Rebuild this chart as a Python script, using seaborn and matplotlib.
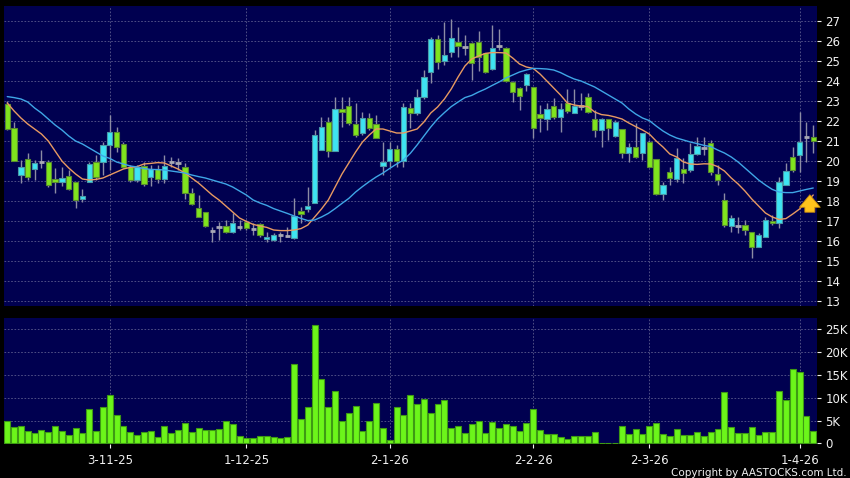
import numpy as np
import pandas as pd
import matplotlib
matplotlib.use("Agg")
import matplotlib.pyplot as plt
import seaborn as sns

# daily candles, oldest first (price)
opens = [22.85, 21.63, 19.3, 20.08, 19.58, 19.95, 19.97, 19.1, 18.97, 19.27,
         18.97, 18.08, 18.97, 19.97, 19.93, 20.8, 21.47, 20.83, 19.68, 19.05,
         19.75, 19.2, 19.6, 19.08, 19.93, 19.88, 19.68, 18.38, 17.63, 17.43,
         16.5, 16.72, 16.75, 16.43, 16.72, 16.93, 16.6, 16.85, 16.08, 16.05,
         16.3, 16.25, 16.13, 17.52, 17.58, 17.88, 20.55, 21.97, 20.52, 22.58,
         22.75, 21.85, 21.38, 22.17, 21.85, 19.77, 20.0, 20.58, 20.0, 22.67,
         22.38, 23.2, 24.47, 26.08, 25.02, 25.47, 25.97, 25.72, 25.92, 25.97,
         25.38, 24.58, 25.75, 25.67, 23.97, 23.63, 23.8, 23.68, 22.35, 22.08,
         22.75, 22.18, 22.88, 22.38, 22.75, 23.18, 22.08, 21.55, 22.12, 21.25,
         21.58, 20.38, 20.68, 20.42, 20.97, 20.08, 18.35, 19.47, 19.08, 19.58,
         19.55, 20.33, 20.63, 20.88, 19.35, 18.05, 16.75, 16.75, 16.8, 16.47,
         15.72, 16.18, 17.02, 16.88, 18.8, 20.18, 20.3, 21.18, 21.22]
highs = [23.0, 21.97, 20.05, 20.42, 20.05, 20.55, 20.05, 19.63, 19.68, 19.55,
         18.97, 18.58, 19.97, 20.3, 20.97, 22.3, 21.7, 20.97, 19.8, 19.8,
         19.97, 19.8, 19.8, 20.3, 20.22, 20.13, 19.9, 18.63, 18.3, 17.43,
         16.72, 16.97, 17.05, 17.38, 17.05, 17.05, 16.88, 16.88, 16.47, 16.4,
         16.47, 16.72, 18.13, 17.72, 18.72, 21.55, 22.2, 22.2, 23.18, 23.18,
         23.18, 22.9, 22.47, 22.4, 22.3, 20.97, 20.97, 20.8, 22.88, 22.88,
         23.6, 24.55, 26.2, 26.3, 26.97, 27.1, 26.7, 26.3, 25.95, 26.5,
         25.4, 26.8, 26.6, 25.7, 24.0, 23.7, 24.38, 23.7, 22.8, 22.88,
         23.13, 22.88, 23.58, 23.58, 23.38, 23.38, 22.55, 22.13, 22.12, 22.05,
         21.58, 20.88, 21.88, 21.38, 21.05, 20.08, 18.97, 19.72, 20.63, 20.13,
         20.88, 21.22, 21.22, 21.05, 19.8, 18.38, 17.3, 17.18, 17.05, 16.47,
         16.38, 17.22, 17.3, 19.22, 19.88, 20.72, 22.47, 21.97, 21.8]
lows = [21.55, 20.0, 18.92, 19.05, 19.05, 19.63, 18.72, 18.38, 18.75, 18.55,
        17.63, 17.97, 18.97, 19.05, 19.3, 19.55, 20.47, 19.63, 18.97, 18.97,
        18.75, 18.75, 18.88, 18.88, 19.72, 19.55, 18.1, 17.8, 17.18, 16.72,
        15.97, 16.05, 16.38, 16.38, 16.55, 16.55, 16.3, 16.22, 15.97, 16.0,
        15.97, 16.2, 16.1, 16.88, 17.47, 17.88, 20.55, 20.2, 20.52, 21.7,
        21.8, 21.2, 21.3, 21.55, 21.13, 19.3, 19.72, 19.72, 19.72, 21.63,
        22.3, 23.1, 23.88, 24.6, 24.8, 25.2, 25.2, 25.3, 24.05, 24.5,
        24.4, 24.55, 25.55, 23.97, 22.95, 22.55, 23.5, 21.13, 21.47, 21.55,
        22.08, 21.47, 22.38, 22.38, 22.55, 22.38, 21.22, 20.68, 21.05, 21.2,
        20.13, 19.97, 20.13, 20.05, 19.72, 18.3, 18.05, 18.8, 18.97, 18.88,
        19.47, 20.3, 20.3, 19.3, 18.8, 16.72, 16.47, 16.42, 16.3, 15.13,
        15.72, 16.18, 16.8, 16.63, 18.8, 19.47, 19.47, 19.97, 20.38]
closes = [21.58, 20.0, 19.68, 19.18, 19.88, 19.95, 18.78, 18.95, 19.17, 18.6,
          18.05, 18.23, 19.85, 19.22, 20.78, 21.43, 20.72, 19.72, 19.05, 19.72,
          18.85, 19.6, 19.1, 19.75, 19.93, 19.88, 18.38, 17.85, 17.18, 16.77,
          16.5, 16.72, 16.47, 16.88, 16.72, 16.67, 16.6, 16.3, 16.18, 16.3,
          16.3, 16.25, 17.25, 17.33, 17.77, 21.3, 21.68, 20.52, 22.58, 22.45,
          21.88, 21.3, 22.17, 21.63, 21.13, 19.97, 20.58, 20.0, 22.68, 22.38,
          23.22, 24.22, 26.08, 24.97, 25.28, 26.13, 25.75, 25.72, 24.88, 25.22,
          24.47, 25.67, 25.75, 24.02, 23.43, 23.27, 24.33, 21.67, 22.13, 22.58,
          22.18, 22.58, 22.5, 22.75, 22.75, 22.43, 21.55, 22.08, 21.63, 21.97,
          20.38, 20.68, 20.18, 21.38, 19.72, 18.33, 18.8, 19.17, 20.13, 19.42,
          20.33, 20.77, 20.63, 19.45, 19.05, 16.8, 17.13, 16.75, 16.55, 15.72,
          16.3, 17.05, 16.88, 18.97, 19.52, 19.55, 20.93, 21.18, 21.0]

# volume in thousands of shares
volume_k = [4.9, 3.6, 3.8, 2.6, 2.3, 3.0, 2.5, 3.7, 2.6, 1.8,
            3.4, 2.3, 7.6, 2.8, 8.0, 10.7, 6.2, 3.9, 2.5, 1.8,
            2.5, 2.8, 1.4, 3.9, 2.3, 2.9, 4.5, 2.5, 3.4, 2.9,
            2.9, 3.2, 4.9, 4.2, 1.6, 1.2, 1.2, 1.5, 1.5, 1.3,
            1.2, 1.4, 17.4, 5.4, 8.0, 26.0, 14.2, 7.9, 11.5, 4.8,
            6.6, 8.2, 2.6, 4.9, 8.8, 3.4, 0.7, 7.9, 6.2, 10.7,
            8.6, 9.8, 6.7, 8.6, 9.4, 3.3, 3.8, 2.3, 4.3, 5.0,
            2.3, 4.6, 3.4, 4.3, 3.7, 2.7, 4.5, 7.5, 3.0, 2.0,
            2.0, 1.4, 0.9, 1.6, 1.6, 1.5, 2.5, 0.1, 0.15, 0.15,
            3.9, 2.0, 3.2, 2.1, 3.8, 4.5, 2.0, 1.5, 3.2, 1.9,
            1.9, 2.4, 1.5, 2.5, 3.2, 11.2, 3.6, 2.2, 2.3, 3.6,
            1.8, 2.4, 2.4, 11.5, 9.5, 16.2, 15.6, 5.9, 2.7]

# moving averages as drawn (orange = short, blue = long)
ma_short = [22.9, 22.5, 22.15, 21.85, 21.6, 21.35, 21.0, 20.5, 20.0, 19.65,
            19.35, 19.1, 19.05, 19.08, 19.15, 19.3, 19.45, 19.6, 19.68, 19.72,
            19.85, 19.88, 19.92, 19.9, 19.75, 19.6, 19.4, 19.15, 18.9, 18.6,
            18.3, 18.05, 17.75, 17.45, 17.15, 16.98, 16.83, 16.75, 16.68, 16.55,
            16.52, 16.52, 16.55, 16.62, 16.8, 17.2, 17.6, 18.05, 18.7, 19.35,
            19.9, 20.45, 20.95, 21.3, 21.6, 21.6, 21.5, 21.4, 21.4, 21.5,
            21.6, 21.95, 22.4, 22.7, 23.1, 23.6, 24.2, 24.75, 25.1, 25.25,
            25.38, 25.42, 25.42, 25.4, 25.15, 24.85, 24.7, 24.63, 24.35, 24.0,
            23.65, 23.3, 22.9, 22.8, 22.75, 22.72, 22.45, 22.32, 22.28, 22.2,
            22.1, 21.9, 21.72, 21.55, 21.35, 21.0, 20.7, 20.35, 20.2, 19.95,
            19.85, 19.83, 19.86, 19.85, 19.72, 19.5, 19.15, 18.85, 18.5, 18.1,
            17.75, 17.4, 17.2, 17.08, 17.12, 17.35, 17.6, 17.95, 18.3]
ma_long = [23.22, 23.17, 23.1, 22.95, 22.65, 22.4, 22.1, 21.8, 21.55, 21.25,
           21.0, 20.85, 20.65, 20.45, 20.25, 20.13, 19.95, 19.85, 19.75, 19.7,
           19.62, 19.58, 19.57, 19.55, 19.5, 19.45, 19.4, 19.3, 19.22, 19.15,
           19.05, 18.95, 18.85, 18.7, 18.5, 18.3, 18.05, 17.9, 17.78, 17.62,
           17.5, 17.38, 17.25, 17.13, 17.02, 17.05, 17.2, 17.38, 17.62, 17.88,
           18.13, 18.45, 18.72, 18.97, 19.2, 19.4, 19.63, 19.85, 20.05, 20.38,
           20.8, 21.25, 21.7, 22.1, 22.42, 22.72, 22.95, 23.17, 23.28, 23.45,
           23.6, 23.78, 23.95, 24.15, 24.3, 24.45, 24.55, 24.63, 24.62, 24.6,
           24.55, 24.42, 24.25, 24.1, 24.0, 23.85, 23.7, 23.5, 23.3, 23.1,
           22.9, 22.6, 22.35, 22.15, 22.02, 21.75, 21.5, 21.3, 21.15, 21.05,
           20.95, 20.87, 20.78, 20.72, 20.55, 20.4, 20.2, 19.95, 19.65, 19.35,
           19.05, 18.8, 18.58, 18.45, 18.42, 18.42, 18.5, 18.58, 18.65]

date_ticks = [15, 35, 56, 77, 94, 116]
date_labels = ["3-11-25", "1-12-25", "2-1-26", "2-2-26", "2-3-26", "1-4-26"]
price_ticks = list(range(13, 28))
vol_ticks = [0, 5, 10, 15, 20, 25]
vol_labels = ["0", "5K", "10K", "15K", "20K", "25K"]

df = pd.DataFrame({"open": opens, "high": highs, "low": lows, "close": closes,
                   "vol": volume_k, "ma_s": ma_short, "ma_l": ma_long})
df["i"] = np.arange(len(df))

sns.set_theme(style="dark")
plt.rcParams["font.family"] = ["DejaVu Sans"]

PANEL = "#000050"
GRID = "#5c5c8e"
UP, UP_EDGE = "#3ee4f2", "#4a9aa8"
DOWN, DOWN_EDGE = "#80e41e", "#5a8c30"
WICK = "#8c8ca4"
TXT = "#f0f0f0"

fig = plt.figure(figsize=(8.5, 4.78), dpi=100, facecolor="black")
ax1 = fig.add_axes([4 / 850, 1 - 306 / 478, 813 / 850, 300 / 478])
ax2 = fig.add_axes([4 / 850, 1 - 444 / 478, 813 / 850, 126 / 478])

# price panel: wicks, bodies, dojis
ax1.vlines(df["i"], df["low"], df["high"], color=WICK, lw=1, zorder=2)
body = df[(df["close"] - df["open"]).abs() > 0.02]
doji = df[(df["close"] - df["open"]).abs() <= 0.02]
up = body[body["close"] > body["open"]]
dn = body[body["close"] < body["open"]]
ax1.bar(up["i"], up["close"] - up["open"], bottom=up["open"], width=0.78,
        color=UP, edgecolor=UP_EDGE, lw=0.8, zorder=3)
ax1.bar(dn["i"], dn["open"] - dn["close"], bottom=dn["close"], width=0.78,
        color=DOWN, edgecolor=DOWN_EDGE, lw=0.8, zorder=3)
ax1.hlines(doji["close"], doji["i"] - 0.39, doji["i"] + 0.39, color="#a8a8b4", lw=2, zorder=3)

sns.lineplot(data=df, x="i", y="ma_s", ax=ax1, color="#e89a62", lw=1, zorder=4)
sns.lineplot(data=df, x="i", y="ma_l", ax=ax1, color="#3fa6e6", lw=1, zorder=4)

# marker arrow under the long average's last point
n = len(df)
tip = ma_long[-1] - 0.2
ax1.annotate("", xy=(n - 1.5, tip), xytext=(n - 1.5, tip - 1.15),
             arrowprops=dict(arrowstyle="simple,head_width=1.25,head_length=0.75,tail_width=0.6",
                             fc="#ffc41c", ec="#c88a10", lw=0.6), zorder=6)

# volume panel
sns.barplot(data=df, x="i", y="vol", ax=ax2, native_scale=True, width=0.88,
            color="#6cf51a", saturation=1, edgecolor="#3e9a14", linewidth=0.8,
            errorbar=None, zorder=3)

for ax in (ax1, ax2):
    ax.set_facecolor(PANEL)
    ax.set_xlim(-0.48, 118.55)
    ax.set_xlabel("")
    ax.set_ylabel("")
    for s in ax.spines.values():
        s.set_visible(False)
    ax.set_xticks(date_ticks)
    ax.grid(True, color=GRID, ls=(0, (2, 2)), lw=0.6)
    ax.set_axisbelow(True)
    ax.yaxis.tick_right()
    ax.tick_params(axis="y", colors=TXT, labelcolor=TXT, labelsize=8.5,
                   length=3, width=0.8, pad=3, right=True, left=False)

ax1.set_ylim(12.75, 27.75)
ax1.set_yticks(price_ticks)
ax1.tick_params(axis="x", bottom=False, labelbottom=False)

ax2.set_ylim(-0.15, 27.5)
ax2.set_yticks(vol_ticks)
ax2.set_yticklabels(vol_labels)
ax2.yaxis.grid(False)
for v in vol_ticks[1:]:
    ax2.axhline(v, color=GRID, ls=(0, (2, 2)), lw=0.6, zorder=0)
ax2.set_xticklabels(date_labels)
ax2.tick_params(axis="x", colors=TXT, labelcolor=TXT, labelsize=8.5,
                length=3, width=0.8, pad=4, bottom=True)

fig.text(0.996, 0.0, "Copyright by AASTOCKS.com Ltd.", color=TXT,
         fontsize=7.5, ha="right", va="bottom")

fig.savefig("out.png", dpi=100, facecolor="black")
